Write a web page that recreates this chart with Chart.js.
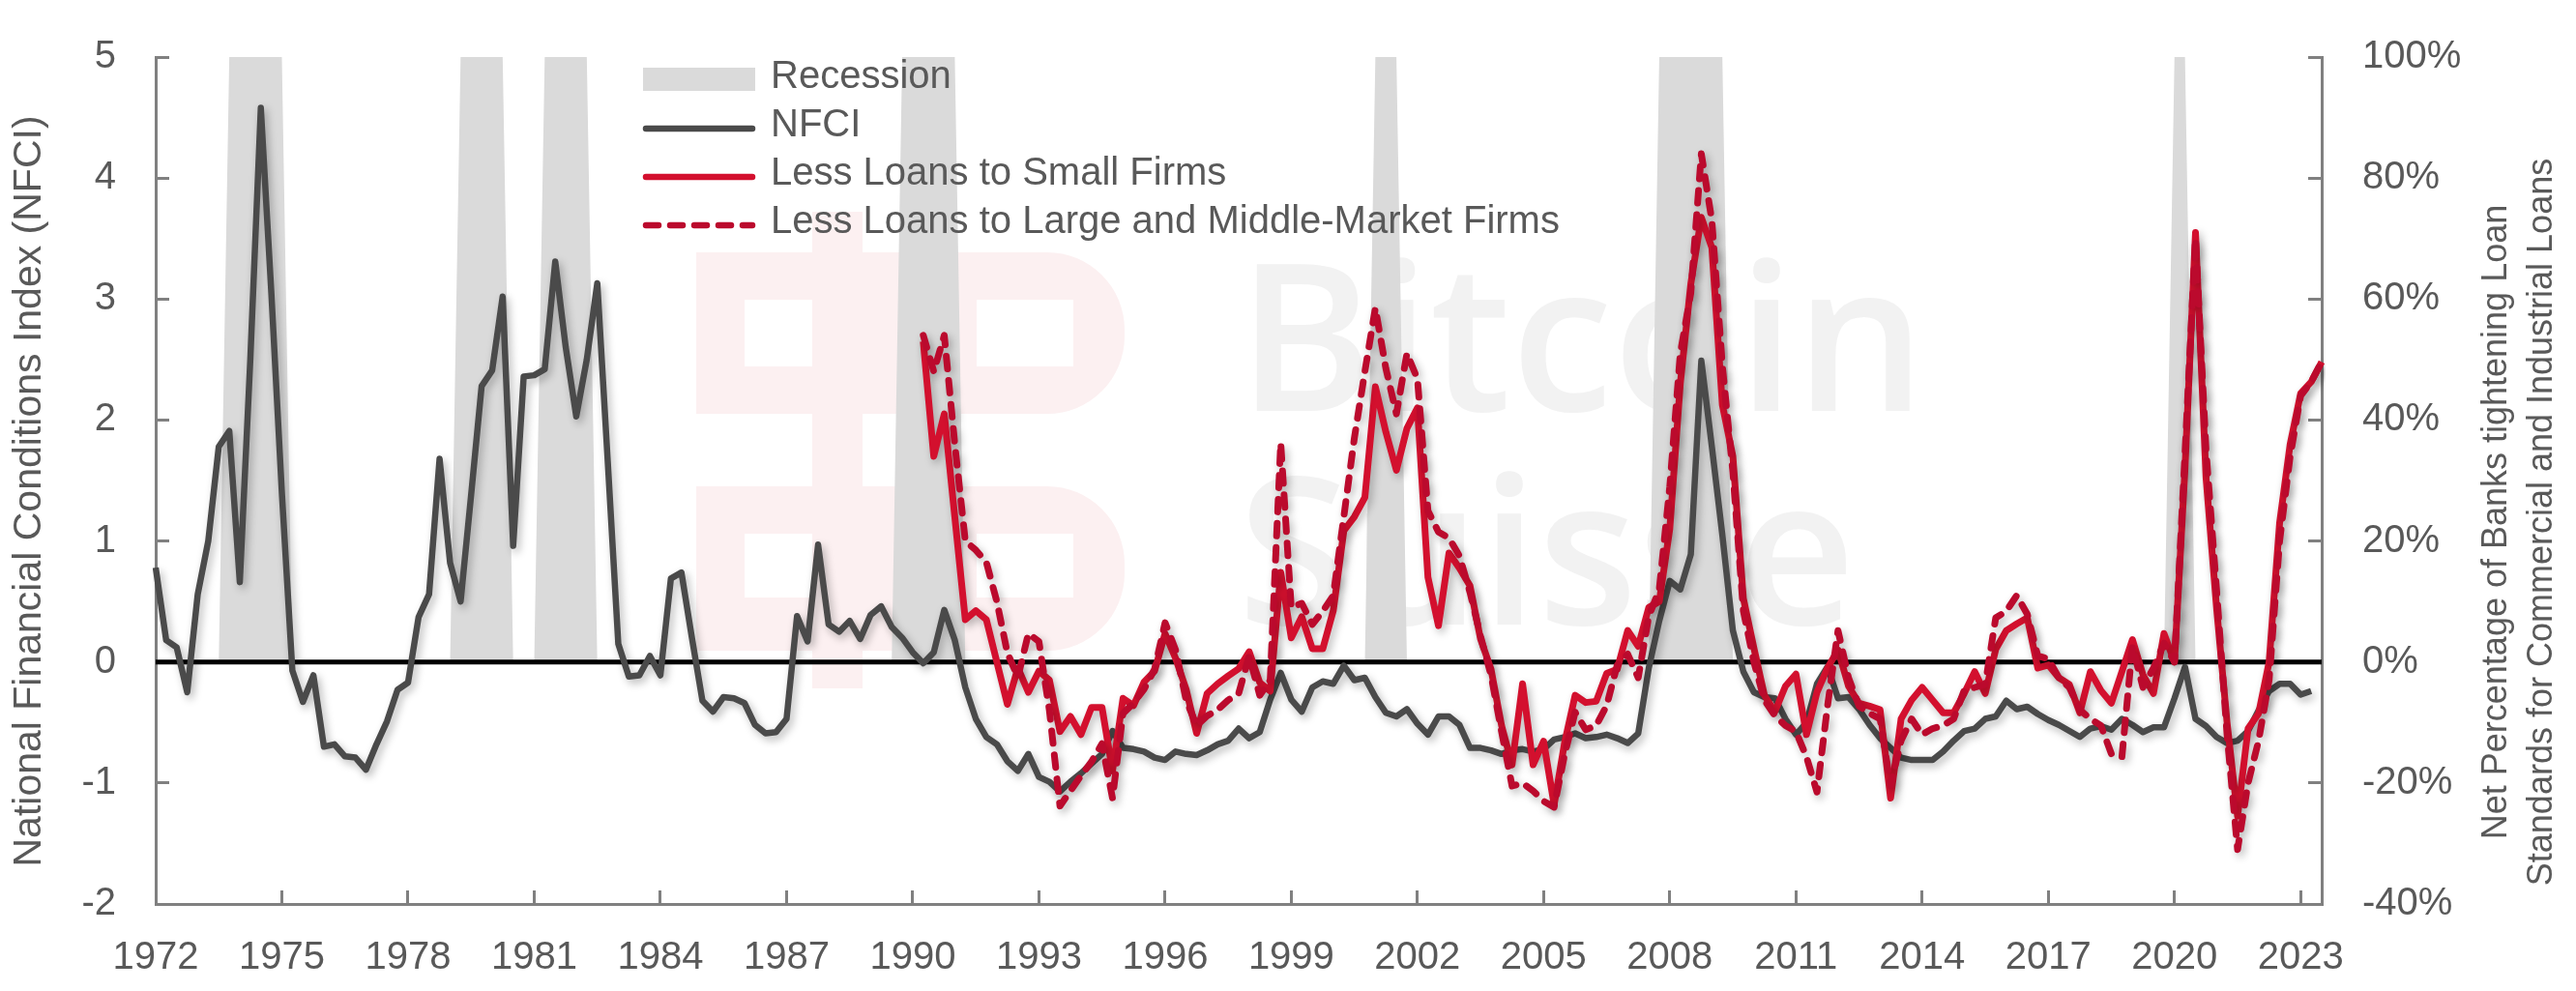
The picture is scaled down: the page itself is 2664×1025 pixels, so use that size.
<!DOCTYPE html>
<html>
<head>
<meta charset="utf-8">
<title>NFCI and C&amp;I loan standards</title>
<script src="https://cdn.jsdelivr.net/npm/chart.js@4.4.1/dist/chart.umd.min.js"></script>
<style>
  html, body { margin: 0; padding: 0; background: #fff; }
  canvas { display: block; }
</style>
</head>
<body>
<canvas id="chart" width="2664" height="1025"></canvas>
<script>
//quarterly categories, 1972Q1 .. 2023Q3
const firstYear = 1972;
const lastQuarter = '2023Q3';
const quarters = [];
for (let y = firstYear; quarters[quarters.length - 1] !== lastQuarter; y++) {
  for (let q = 1; q <= 4 && quarters[quarters.length - 1] !== lastQuarter; q++) {
    quarters.push(y + 'Q' + q);
  }
}
//years that get a label on the x axis
const yearTicks = [1972, 1975, 1978, 1981, 1984, 1987, 1990, 1993, 1996, 1999, 2002, 2005, 2008, 2011, 2014, 2017, 2020, 2023];

//recessions, first and last quarter
const recessions = [
  ['1973Q4', '1975Q1'], ['1979Q2', '1980Q2'], ['1981Q2', '1982Q2'], ['1989Q4', '1991Q1'],
  ['2001Q1', '2001Q3'], ['2007Q4', '2009Q2'], ['2020Q1', '2020Q2']
];

//NFCI, from 1972Q1
const nfci = [
  0.78, 0.18, 0.12, -0.25, 0.56, 1.0, 1.78, 1.91, 0.66, 2.5, 4.58, 3.05,
  1.4, -0.07, -0.33, -0.11, -0.7, -0.68, -0.78, -0.79, -0.89, -0.68, -0.49, -0.23,
  -0.17, 0.37, 0.56, 1.68, 0.82, 0.5, 1.38, 2.28, 2.41, 3.02, 0.96, 2.36,
  2.37, 2.42, 3.31, 2.6, 2.03, 2.5, 3.13, 1.65, 0.15, -0.12, -0.11, 0.05,
  -0.11, 0.69, 0.74, 0.2, -0.32, -0.41, -0.29, -0.3, -0.34, -0.52, -0.59, -0.58,
  -0.47, 0.38, 0.17, 0.97, 0.31, 0.25, 0.34, 0.19, 0.39, 0.46, 0.29, 0.2,
  0.08, -0.01, 0.08, 0.43, 0.18, -0.21, -0.47, -0.62, -0.68, -0.82, -0.9, -0.76,
  -0.95, -0.99, -1.07, -0.99, -0.92, -0.84, -0.76, -0.57, -0.71, -0.72, -0.74, -0.79,
  -0.81, -0.74, -0.76, -0.77, -0.73, -0.68, -0.65, -0.55, -0.63, -0.58, -0.31, -0.09,
  -0.31, -0.41, -0.21, -0.16, -0.18, -0.03, -0.15, -0.13, -0.29, -0.42, -0.45, -0.39,
  -0.51, -0.6, -0.45, -0.45, -0.52, -0.71, -0.71, -0.73, -0.76, -0.73, -0.72, -0.74,
  -0.72, -0.64, -0.62, -0.59, -0.63, -0.62, -0.6, -0.63, -0.67, -0.59, -0.05, 0.34,
  0.67, 0.6, 0.89, 2.49, 1.78, 1.05, 0.26, -0.08, -0.25, -0.29, -0.3, -0.47,
  -0.6, -0.5, -0.18, -0.04, -0.3, -0.29, -0.39, -0.52, -0.63, -0.71, -0.79, -0.81,
  -0.81, -0.81, -0.74, -0.65, -0.57, -0.55, -0.47, -0.45, -0.32, -0.39, -0.37, -0.43,
  -0.48, -0.52, -0.57, -0.62, -0.55, -0.53, -0.56, -0.47, -0.52, -0.58, -0.54, -0.54,
  -0.3, -0.04, -0.47, -0.53, -0.62, -0.67, -0.65, -0.57, -0.4, -0.24, -0.18, -0.18, -0.27, -0.24
];

//loan officer survey, net % tightening, from 1990Q2
const surveyStart = '1990Q2';
const smallFirms = [
  53, 34, 41, 24, 7, 8.5, 7, 0, -7, -1, -5, -1.5,
  -3, -11.5, -9, -12, -7.5, -7.5, -18, -6, -7.2, -3.3, -1.5, 4.7,
  0.6, -4.5, -11.8, -5.2, -3.6, -2.3, -1.1, 1.7, -3.4, -4.8, 14.8, 4,
  7.5, 2.2, 2.2, 8.5, 21.7, 24, 27.2, 45.5, 38, 31.7, 38.6, 42,
  14, 6, 18, 15.5, 12.6, 3.8, -1.2, -10.5, -17, -3.6, -17, -13.1,
  -23.6, -13.3, -5.5, -6.7, -6.5, -1.9, -1.2, 5.2, 2.6, 9, 10, 22,
  46, 62.5, 73.5, 68.5, 42.5, 34, 10.5, 2.3, -5.5, -8.2, -4, -2,
  -12, -5, -1, 2, -4, -6.8, -7.3, -7.9, -22.5, -9.4, -6.3, -4.2,
  -6.3, -8.4, -8.4, -5.2, -1.6, -5.2, 2.1, 5.2, 6.3, 7.3, -1, -0.5,
  -2.6, -3.7, -8.4, -1.6, -4.7, -6.8, -1.6, 3.7, -2.1, -5.2, 4.7, 0,
  32, 71, 30.5, 9, -10, -25.5, -11, -8.5, 0, 23, 36, 44.4, 46.3, 49.6
];
const largeFirms = [
  54, 48, 54, 36, 20, 18.5, 16.5, 10, 1.5, -2.5, 4.7, 3.4,
  -8, -23.8, -21.3, -18.8, -16.5, -13.5, -22.5, -8.5, -6.8, -4.5, -1.2, 6.5,
  2, -6.3, -10.5, -8.9, -7.9, -6.3, -5.2, 1, -5.5, -3, 36.2, 9,
  9.7, 6.2, 8.4, 11, 24, 37, 48, 58.5, 48.5, 41, 51, 46.8,
  25, 21.5, 20.5, 17.5, 11.5, 4.3, -2.2, -11.5, -20.5, -20, -21.3, -23,
  -24, -15.3, -8.3, -11.2, -10.5, -7.2, -0.5, 1.3, -2.6, 7.5, 12, 29,
  51, 61, 84, 73, 49, 31.4, 8.4, 0, -6.3, -8.9, -10.5, -11.5,
  -15.7, -21.5, -7.3, 5.2, -2.6, -7.3, -8.5, -9.4, -20.4, -13, -9.4, -12,
  -11, -10.5, -9.4, -4.7, -4.2, -3.7, 7.3, 8.4, 11, 7.9, 1, 0.5,
  -2.6, -4.2, -7.9, -9.4, -10.5, -15.2, -15.7, 2.6, -4.2, -1, 3.1, 0,
  34.5, 70, 35, 12, -12, -31, -20, -13, -3, 20, 34, 44, 46.3, 49.6
];

const textGray = '#595959';
const axisGray = '#808080';
const fontFamily = "'Liberation Sans', Arial, sans-serif";
const nfciMax = 5;

//build the full-length series the chart needs
const surveyOffset = quarters.indexOf(surveyStart);
const fromSurvey = arr => quarters.map((q, i) => (i >= surveyOffset && i - surveyOffset < arr.length) ? arr[i - surveyOffset] : null);
const recessionSeries = quarters.map(q => recessions.some(r => q >= r[0] && q <= r[1]) ? nfciMax : 0);
const isYearTick = i => quarters[i] && quarters[i].endsWith('Q1') && yearTicks.includes(+quarters[i].slice(0, 4));

//faint logo + name watermark behind the lines
const watermark = {
  id: 'watermark',
  beforeDatasetsDraw(chart) {
    const ctx = chart.ctx;
    ctx.save();
    ctx.fillStyle = '#fcf0f1';
    ctx.fillRect(840, 219, 52, 493);
    [[261, 428, 310, 379], [503, 673, 552, 618]].forEach(b => {
      ctx.beginPath();
      ctx.roundRect(720, b[0], 443, b[1] - b[0], [0, 80, 80, 0]);
      ctx.fill();
    });
    ctx.fillStyle = '#fff';
    [[310, 379], [552, 618]].forEach(h => {
      ctx.fillRect(770, h[0], 70, h[1] - h[0]);
      ctx.fillRect(1010, h[0], 100, h[1] - h[0]);
    });
    ctx.fillStyle = '#f2f2f2';
    ctx.font = "600 212px 'Open Sans', sans-serif";
    ctx.fillText('Bitcoin', 1280, 425);
    ctx.fillText('Suisse', 1280, 646);
    ctx.restore();
  }
};

//soft shadow under the lines, black zero line over the recession bands
const lineFx = {
  id: 'lineFx',
  beforeDatasetDraw(chart, args) {
    if (chart.data.datasets[args.index].fill) return;
    const ctx = chart.ctx;
    ctx.save();
    ctx.shadowColor = 'rgba(0,0,0,0.28)';
    ctx.shadowBlur = 8;
    ctx.shadowOffsetX = 3;
    ctx.shadowOffsetY = 4;
  },
  afterDatasetDraw(chart, args) {
    const ctx = chart.ctx;
    if (!chart.data.datasets[args.index].fill) { ctx.restore(); return; }
    const y0 = chart.scales.y.getPixelForValue(0);
    ctx.save();
    ctx.strokeStyle = '#000';
    ctx.lineWidth = 5;
    ctx.beginPath();
    ctx.moveTo(chart.chartArea.left, y0);
    ctx.lineTo(chart.chartArea.right, y0);
    ctx.stroke();
    ctx.restore();
  }
};

//legend inside the plot and the rotated axis titles
const extras = {
  id: 'extras',
  afterDraw(chart) {
    const ctx = chart.ctx;
    const x0 = 665, sw = 116, tx = 797, y0 = 79, rowH = 50;
    ctx.save();
    ctx.font = '40px ' + fontFamily;
    ctx.textBaseline = 'middle';
    chart.data.datasets.forEach((ds, i) => {
      const y = y0 + i * rowH;
      if (ds.fill) {
        ctx.fillStyle = ds.backgroundColor;
        ctx.fillRect(x0, y - 9, sw, 24);
      } else {
        ctx.strokeStyle = ds.borderColor;
        ctx.lineWidth = 6.5;
        ctx.lineCap = 'round';
        ctx.setLineDash(ds.borderDash || []);
        ctx.beginPath();
        ctx.moveTo(x0 + 3, y + 4);
        ctx.lineTo(x0 + sw - 3, y + 4);
        ctx.stroke();
        ctx.setLineDash([]);
      }
      ctx.fillStyle = textGray;
      ctx.fillText(ds.label, tx, y + 1);
    });
    ctx.restore();

    ctx.save();
    ctx.fillStyle = textGray;
    ctx.textAlign = 'center';
    ctx.textBaseline = 'middle';
    ctx.font = '41px ' + fontFamily;
    ctx.translate(chart.scales.y.left + 31, 508);
    ctx.rotate(-Math.PI / 2);
    ctx.fillText('National Financial Conditions Index (NFCI)', 0, 0);
    ctx.restore();

    const right = chart.scales.y2;
    ctx.save();
    ctx.fillStyle = textGray;
    ctx.font = '36px ' + fontFamily;
    ctx.textAlign = 'center';
    ctx.textBaseline = 'middle';
    ctx.translate(right.left + 181, 540);
    ctx.rotate(-Math.PI / 2);
    ctx.fillText('Net Percentage of Banks tightening Loan', 0, 0);
    ctx.fillText('Standards for Commercial and Industrial Loans', 0, 47);
    ctx.restore();
  }
};

const ctx = document.getElementById('chart').getContext('2d');
const chart = new Chart(ctx, {
  type: 'line',
  data: {
    labels: quarters,
    datasets: [
      {
        label: 'Recession',
        data: recessionSeries,
        yAxisID: 'y',
        fill: 'origin',
        backgroundColor: '#dadada',
        borderColor: 'rgba(0,0,0,0)',
        borderWidth: 0,
        pointRadius: 0,
        order: 3
      },
      {
        label: 'NFCI',
        data: nfci,
        yAxisID: 'y',
        borderColor: '#4a4a4a',
        borderWidth: 6.5,
        borderJoinStyle: 'round',
        pointRadius: 0,
        fill: false,
        order: 2
      },
      {
        label: 'Less Loans to Small Firms',
        data: fromSurvey(smallFirms),
        yAxisID: 'y2',
        borderColor: '#d3102e',
        borderWidth: 7,
        borderJoinStyle: 'round',
        pointRadius: 0,
        fill: false,
        order: 1
      },
      {
        label: 'Less Loans to Large and Middle-Market Firms',
        data: fromSurvey(largeFirms),
        yAxisID: 'y2',
        borderColor: '#bb0a2d',
        borderWidth: 7,
        borderDash: [13, 12],
        borderCapStyle: 'round',
        borderJoinStyle: 'round',
        pointRadius: 0,
        fill: false,
        order: 0
      }
    ]
  },
  options: {
    responsive: false,
    devicePixelRatio: 1,
    animation: false,
    layout: { padding: { top: 59, left: 0, right: 0, bottom: 0 } },
    plugins: {
      legend: { display: false },
      tooltip: { enabled: false }
    },
    scales: {
      x: {
        type: 'category',
        offset: false,
        grid: {
          drawOnChartArea: false,
          tickLength: -14,
          lineWidth: 3,
          color: c => isYearTick(c.index) ? axisGray : 'rgba(0,0,0,0)'
        },
        border: { color: axisGray, width: 3 },
        ticks: {
          autoSkip: false,
          maxRotation: 0,
          padding: 46,
          color: textGray,
          font: { family: fontFamily, size: 40 },
          callback: (v, i) => isYearTick(i) ? quarters[i].slice(0, 4) : ''
        },
        afterFit: s => { s.height = 90; }
      },
      y: {
        position: 'left',
        min: -2,
        max: nfciMax,
        grid: { drawOnChartArea: false, tickLength: -14, lineWidth: 3, color: axisGray },
        border: { color: axisGray, width: 3 },
        ticks: { stepSize: 1, padding: 55, color: textGray, font: { family: fontFamily, size: 40 } },
        afterFit: s => { s.width = 161; s.paddingTop = 0; s.paddingBottom = 0; }
      },
      y2: {
        position: 'right',
        min: -40,
        max: 100,
        grid: { drawOnChartArea: false, tickLength: -14, lineWidth: 3, color: axisGray },
        border: { color: axisGray, width: 3 },
        ticks: {
          stepSize: 20,
          padding: 56,
          color: textGray,
          font: { family: fontFamily, size: 40 },
          callback: v => v + '%'
        },
        afterFit: s => { s.width = 263; s.paddingTop = 0; s.paddingBottom = 0; }
      }
    }
  },
  plugins: [watermark, lineFx, extras]
});
</script>
</body>
</html>
